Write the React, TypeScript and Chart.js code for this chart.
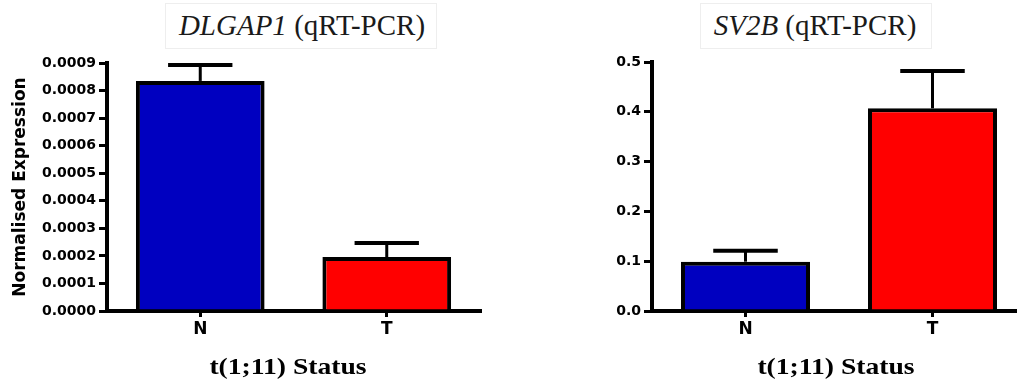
import React, { useEffect, useRef } from "react";
import { Chart, registerables } from "chart.js";

Chart.register(...registerables);

const categories = ["N", "T"];
const dlgap1Means = [0.000835, 0.000196];
const dlgap1Errors = [0.000058, 0.000051];
const sv2bMeans = [0.099, 0.407];
const sv2bErrors = [0.022, 0.075];
const barColors = ["#0000c0", "#ff0000"];
const dlgap1Max = 0.0009;
const dlgap1Step = 0.0001;
const sv2bMax = 0.5;
const sv2bStep = 0.1;
const yAxisTitle = "Normalised Expression";
const xAxisTitle = "t(1;11) Status";

const errorBarPlugin = {
  id: "errorBars",
  afterDatasetsDraw(chart: any, _args: any, opts: any) {
    const errs: number[] = opts.errors || [];
    const meta = chart.getDatasetMeta(0);
    const yScale = chart.scales.y;
    const ctx = chart.ctx;
    ctx.save();
    ctx.strokeStyle = "#000";
    ctx.lineCap = "butt";
    meta.data.forEach((bar: any, i: number) => {
      const v = chart.data.datasets[0].data[i] as number;
      const top = yScale.getPixelForValue(v + errs[i]);
      const { x, y, width } = bar.getProps(["x", "y", "width"], true);
      ctx.lineWidth = 3;
      ctx.beginPath();
      ctx.moveTo(x, y);
      ctx.lineTo(x, top);
      ctx.stroke();
      ctx.lineWidth = 4;
      ctx.beginPath();
      ctx.moveTo(x - width * 0.25, top);
      ctx.lineTo(x + width * 0.25, top);
      ctx.stroke();
    });
    ctx.restore();
  },
};

function makeConfig(
  means: number[],
  errors: number[],
  max: number,
  step: number,
  decimals: number,
  yWidth: number,
  padding: any,
  showYTitle: boolean
): any {
  return {
    type: "bar",
    data: {
      labels: categories,
      datasets: [
        {
          data: means,
          backgroundColor: barColors,
          borderColor: "#000",
          borderWidth: 4,
          borderSkipped: "start",
          categoryPercentage: 1,
          barPercentage: 0.69,
        },
      ],
    },
    plugins: [errorBarPlugin],
    options: {
      responsive: false,
      animation: false,
      layout: { padding },
      plugins: {
        legend: { display: false },
        tooltip: { enabled: false },
        errorBars: { errors },
      },
      scales: {
        x: {
          type: "category",
          offset: true,
          grid: {
            display: true,
            drawOnChartArea: false,
            drawTicks: true,
            tickLength: 6,
            lineWidth: 3,
            color: "#000",
            offset: false,
          },
          border: { display: true, width: 4, color: "#000" },
          ticks: {
            color: "#000",
            padding: 2,
            font: { family: "DejaVu Sans", weight: "bold", size: 17 },
          },
          afterFit: (s: any) => {
            s.height = 69;
          },
        },
        y: {
          min: 0,
          max,
          grid: {
            display: true,
            drawOnChartArea: false,
            drawTicks: true,
            tickLength: 8,
            lineWidth: 3,
            color: "#000",
          },
          border: { display: true, width: 4, color: "#000" },
          ticks: {
            stepSize: step,
            color: "#000",
            padding: 3,
            font: { family: "DejaVu Sans", weight: "bold", size: 14 },
            callback: (v: any) => Number(v).toFixed(decimals),
          },
          title: {
            display: showYTitle,
            text: yAxisTitle,
            color: "#000",
            font: { family: "DejaVu Sans", weight: "bold", size: 17 },
            padding: { top: 10, bottom: 0 },
          },
          afterFit: (s: any) => {
            s.width = yWidth;
          },
        },
      },
    },
  };
}

function BarPanel(props: { left: number; config: any }) {
  const ref = useRef<HTMLCanvasElement | null>(null);
  useEffect(() => {
    if (!ref.current) return;
    const chart = new Chart(ref.current, props.config);
    return () => chart.destroy();
  }, []);
  return (
    <canvas
      ref={ref}
      width={500}
      height={380}
      style={{ position: "absolute", left: props.left, top: 0, width: 500, height: 380 }}
    />
  );
}

const titleStyle = (cx: number): React.CSSProperties => ({
  position: "absolute",
  left: cx - 200,
  width: 400,
  top: 11,
  textAlign: "center",
  fontFamily: "'Liberation Serif', serif",
  fontSize: 29,
  lineHeight: "29px",
  color: "#1a1a1a",
  whiteSpace: "nowrap",
});

const xTitleStyle = (cx: number): React.CSSProperties => ({
  position: "absolute",
  left: cx - 150,
  width: 300,
  top: 354,
  textAlign: "center",
  fontFamily: "'Liberation Serif', serif",
  fontWeight: "bold",
  fontSize: 24,
  lineHeight: "24px",
  color: "#000",
  whiteSpace: "nowrap",
  transform: "scaleX(1.15)",
  transformOrigin: "center",
});

const boxStyle = (l: number, w: number): React.CSSProperties => ({
  position: "absolute",
  left: l,
  top: 3,
  width: w,
  height: 46,
  border: "1px solid #eeeeee",
  boxSizing: "border-box",
});

export default function App() {
  const leftConfig = makeConfig(
    dlgap1Means,
    dlgap1Errors,
    dlgap1Max,
    dlgap1Step,
    4,
    107,
    { top: 63, right: 20, bottom: 0, left: 0 },
    true
  );
  const rightConfig = makeConfig(
    sv2bMeans,
    sv2bErrors,
    sv2bMax,
    sv2bStep,
    1,
    112,
    { top: 62, right: 14, bottom: 0, left: 0 },
    false
  );
  return (
    <div
      style={{
        position: "fixed",
        left: 0,
        top: 0,
        width: 1017,
        height: 380,
        overflow: "hidden",
        background: "#fff",
      }}
    >
      <div style={boxStyle(165, 272)} />
      <div style={boxStyle(700, 232)} />
      <div style={titleStyle(302)}>
        <i>DLGAP1</i> (qRT-PCR)
      </div>
      <div style={titleStyle(815)}>
        <i>SV2B</i> (qRT-PCR)
      </div>
      <BarPanel left={0} config={leftConfig} />
      <BarPanel left={540} config={rightConfig} />
      <div style={xTitleStyle(288)}>{xAxisTitle}</div>
      <div style={xTitleStyle(836)}>{xAxisTitle}</div>
    </div>
  );
}
